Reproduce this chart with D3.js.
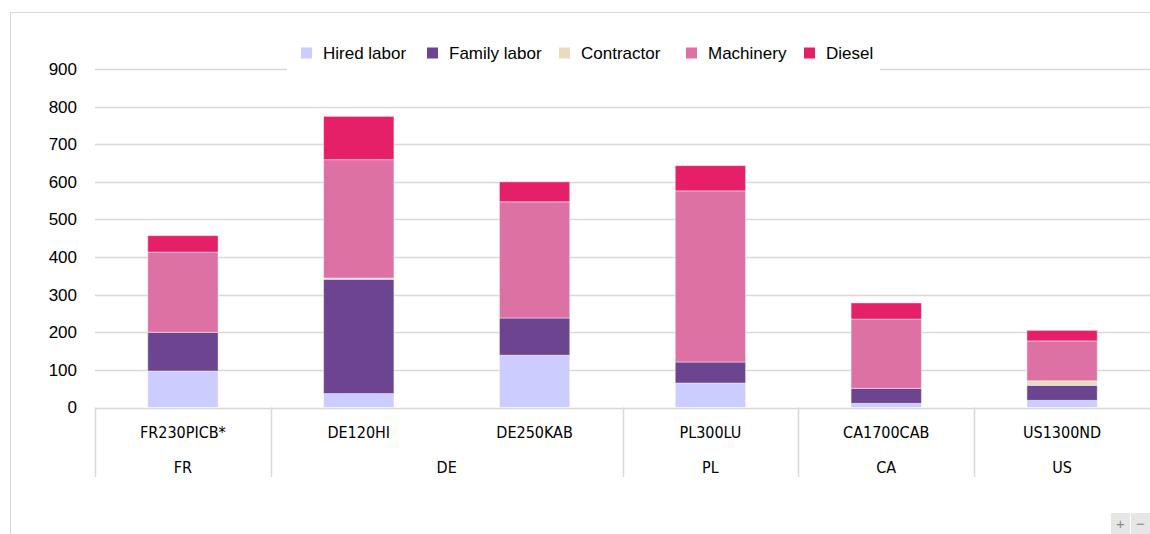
<!DOCTYPE html>
<html>
<head>
<meta charset="utf-8">
<script src="https://cdn.jsdelivr.net/npm/d3@7"></script>
<style>
  body { margin: 0; background: #fff; }
  svg { display: block; }
</style>
</head>
<body>
<svg id="chart" width="1150" height="534"></svg>
<script>
// data
const farms = ["FR230PICB*", "DE120HI", "DE250KAB", "PL300LU", "CA1700CAB", "US1300ND"];
const countries = ["FR", "DE", "DE", "PL", "CA", "US"];
const seriesNames = ["Hired labor", "Family labor", "Contractor", "Machinery", "Diesel"];
const hiredLabor = [97, 37, 139, 65, 11, 19];
const familyLabor = [103, 304, 99, 56, 40, 40];
const contractor = [0, 3, 0, 0, 0, 12];
const machinery = [213, 315, 309, 455, 184, 106];
const diesel = [44, 115, 53, 67, 43, 28];
const yTicks = [0, 100, 200, 300, 400, 500, 600, 700, 800, 900];

const colors = ["#CCCCFF", "#6C4490", "#E6DCC0", "#DE71A4", "#E52068"];

const width = 1150, height = 534;
const marginLeft = 95, marginRight = 0, marginTop = 69, baseline = 407.5;

const rows = farms.map((f, i) => ({
  farm: f,
  country: countries[i],
  "Hired labor": hiredLabor[i],
  "Family labor": familyLabor[i],
  "Contractor": contractor[i],
  "Machinery": machinery[i],
  "Diesel": diesel[i]
}));

const svg = d3.select("#chart");

// outer frame
svg.append("rect")
  .attr("x", 10.5).attr("y", 12.5)
  .attr("width", 1200).attr("height", 600)
  .attr("fill", "none")
  .attr("stroke", "#d9d9d9");

const xScale = d3.scaleBand()
  .domain(farms)
  .range([marginLeft, width - marginRight])
  .paddingInner(0.6)
  .paddingOuter(0.3);

const bandStep = xScale.step();

const yScale = d3.scaleLinear()
  .domain([0, 900])
  .range([baseline, marginTop]);

// gridlines
svg.append("g")
  .attr("class", "grid")
  .selectAll("line")
  .data(yTicks)
  .enter()
  .append("line")
  .attr("x1", marginLeft)
  .attr("x2", width)
  .attr("y1", d => Math.round(yScale(d)) + 0.5)
  .attr("y2", d => Math.round(yScale(d)) + 0.5)
  .attr("stroke", "#d9d9d9")
  .attr("stroke-width", 1.5);

// y axis labels
const yAxis = d3.axisLeft(yScale).tickValues(yTicks).tickSize(0).tickPadding(18);
svg.append("g")
  .attr("class", "y axis")
  .attr("transform", "translate(" + marginLeft + ",0)")
  .call(yAxis)
  .call(g => g.select(".domain").remove())
  .selectAll("text")
  .style("font-family", "'Liberation Sans', Arial, sans-serif")
  .style("font-size", "17px")
  .style("fill", "#000");

// stacked bars
const stack = d3.stack().keys(seriesNames);
const layers = stack(rows);

svg.append("g")
  .attr("class", "bars")
  .selectAll("g")
  .data(layers)
  .enter()
  .append("g")
  .attr("fill", (d, i) => colors[i])
  .selectAll("rect")
  .data(d => d)
  .enter()
  .append("rect")
  .attr("x", d => xScale(d.data.farm))
  .attr("width", xScale.bandwidth())
  .attr("y", d => yScale(d[1]))
  .attr("height", d => yScale(d[0]) - yScale(d[1]))
  .attr("stroke", "rgba(255,255,255,0.45)")
  .attr("stroke-width", 1);

// category axis: two levels
const xAxisG = svg.append("g").attr("class", "x axis");

const farmLabelY = 432;
const countryLabelY = 467;
const dividerBottom = 477;

xAxisG.selectAll("text.farm")
  .data(farms)
  .enter()
  .append("text")
  .attr("class", "farm")
  .attr("x", d => xScale(d) + xScale.bandwidth() / 2)
  .attr("y", farmLabelY)
  .attr("dy", "0.35em")
  .attr("text-anchor", "middle")
  .style("font-family", "'Liberation Sans Narrow', 'DejaVu Sans Condensed', sans-serif")
  .style("font-size", "16px")
  .style("fill", "#000")
  .text(d => d);

// country groups
const groups = [];
countries.forEach((c, i) => {
  const last = groups[groups.length - 1];
  if (last && last.country === c) {
    last.end = i;
  } else {
    groups.push({ country: c, start: i, end: i });
  }
});

const groupLeft = g => xScale(farms[g.start]) - (bandStep - xScale.bandwidth()) / 2;
const groupRight = g => xScale(farms[g.end]) + xScale.bandwidth() + (bandStep - xScale.bandwidth()) / 2;

xAxisG.selectAll("text.country")
  .data(groups)
  .enter()
  .append("text")
  .attr("class", "country")
  .attr("x", d => (groupLeft(d) + groupRight(d)) / 2)
  .attr("y", countryLabelY)
  .attr("dy", "0.35em")
  .attr("text-anchor", "middle")
  .style("font-family", "'Liberation Sans Narrow', 'DejaVu Sans Condensed', sans-serif")
  .style("font-size", "16px")
  .style("fill", "#000")
  .text(d => d.country);

xAxisG.selectAll("line.divider")
  .data(groups)
  .enter()
  .append("line")
  .attr("class", "divider")
  .attr("x1", d => Math.round(groupLeft(d)) + 0.5)
  .attr("x2", d => Math.round(groupLeft(d)) + 0.5)
  .attr("y1", baseline)
  .attr("y2", dividerBottom)
  .attr("stroke", "#d9d9d9")
  .attr("stroke-width", 1.5);

// legend
const legendItems = [301, 427, 559, 686, 804];
const legend = svg.append("g").attr("class", "legend");

legend.append("rect")
  .attr("x", 287).attr("y", 38)
  .attr("width", 593).attr("height", 36)
  .attr("fill", "#fff");

const item = legend.selectAll("g.item")
  .data(seriesNames)
  .enter()
  .append("g")
  .attr("class", "item")
  .attr("transform", (d, i) => "translate(" + legendItems[i] + ",53)");

item.append("rect")
  .attr("x", 0).attr("y", -5.5)
  .attr("width", 11).attr("height", 11)
  .attr("fill", (d, i) => colors[i]);

item.append("text")
  .attr("x", 22)
  .attr("y", 0)
  .attr("dy", "0.35em")
  .style("font-family", "'Liberation Sans', Arial, sans-serif")
  .style("font-size", "17px")
  .style("fill", "#000")
  .text(d => d);

// zoom buttons in corner
const btns = svg.append("g").attr("class", "zoom-buttons");
["+", "\u2212"].forEach((s, i) => {
  btns.append("rect")
    .attr("x", 1111 + i * 20).attr("y", 513)
    .attr("width", 19).attr("height", 21)
    .attr("fill", "#e6e6e6");
  btns.append("text")
    .attr("x", 1120.5 + i * 20).attr("y", 524)
    .attr("dy", "0.35em")
    .attr("text-anchor", "middle")
    .style("font-family", "'Liberation Sans', Arial, sans-serif")
    .style("font-size", "15px")
    .style("fill", "#888")
    .text(s);
});
</script>
</body>
</html>
